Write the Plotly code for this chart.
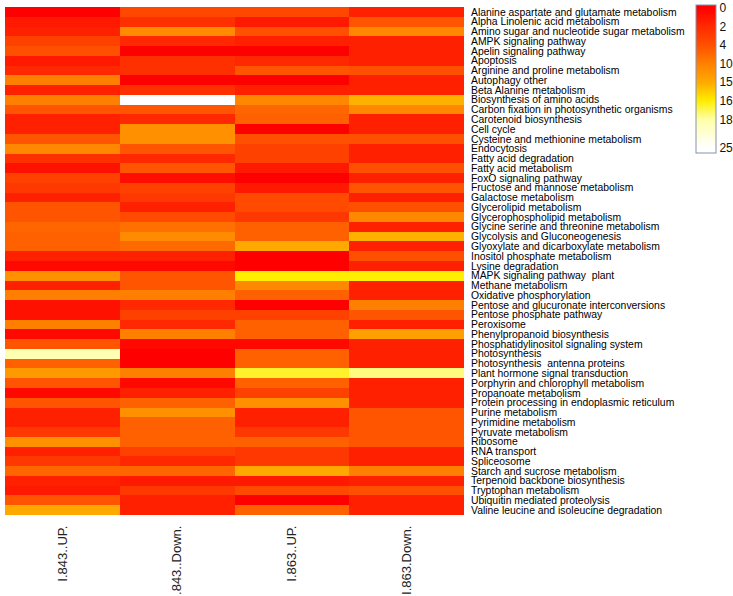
import numpy as np
import plotly.graph_objects as go

pathways = [
    "Alanine aspartate and glutamate metabolism",
    "Alpha Linolenic acid metabolism",
    "Amino sugar and nucleotide sugar metabolism",
    "AMPK signaling pathway",
    "Apelin signaling pathway",
    "Apoptosis",
    "Arginine and proline metabolism",
    "Autophagy other",
    "Beta Alanine metabolism",
    "Biosynthesis of amino acids",
    "Carbon fixation in photosynthetic organisms",
    "Carotenoid biosynthesis",
    "Cell cycle",
    "Cysteine and methionine metabolism",
    "Endocytosis",
    "Fatty acid degradation",
    "Fatty acid metabolism",
    "FoxO signaling pathway",
    "Fructose and mannose metabolism",
    "Galactose metabolism",
    "Glycerolipid metabolism",
    "Glycerophospholipid metabolism",
    "Glycine serine and threonine metabolism",
    "Glycolysis and Gluconeogenesis",
    "Glyoxylate and dicarboxylate metabolism",
    "Inositol phosphate metabolism",
    "Lysine degradation",
    "MAPK signaling pathway  plant",
    "Methane metabolism",
    "Oxidative phosphorylation",
    "Pentose and glucuronate interconversions",
    "Pentose phosphate pathway",
    "Peroxisome",
    "Phenylpropanoid biosynthesis",
    "Phosphatidylinositol signaling system",
    "Photosynthesis",
    "Photosynthesis  antenna proteins",
    "Plant hormone signal transduction",
    "Porphyrin and chlorophyll metabolism",
    "Propanoate metabolism",
    "Protein processing in endoplasmic reticulum",
    "Purine metabolism",
    "Pyrimidine metabolism",
    "Pyruvate metabolism",
    "Ribosome",
    "RNA transport",
    "Spliceosome",
    "Starch and sucrose metabolism",
    "Terpenoid backbone biosynthesis",
    "Tryptophan metabolism",
    "Ubiquitin mediated proteolysis",
    "Valine leucine and isoleucine degradation",
]

samples = ["I.843..UP.", ".843..Down.", "I.863..UP.", "I.863.Down."]

i843_up = [0, 1.2, 1.5, 3.2, 4, 1.2, 1.9, 10, 1.5, 10, 4.6, 1.5, 1.5, 4.6, 11, 2.3, 0.8, 3.2, 2.7, 1.5,
           4.6, 4.6, 6.8, 6, 6, 1.5, 0.4, 12, 1.5, 10, 0.8, 0.8, 10, 0.4, 4.6, 19, 6, 13, 4.6, 0.4,
           4.6, 1.5, 1.5, 2.7, 12, 1.5, 2.7, 6.8, 1.5, 1.2, 4.6, 14.8]
i843_down = [3.5, 2.3, 11.4, 1.9, 0, 2.3, 2.3, 0, 2.3, 25, 4.6, 1.9, 12, 12, 4.6, 1.9, 4.6, 0.6, 3.2, 2.7,
             1.5, 3.7, 8, 11.4, 7.2, 1.5, 0.4, 4.6, 4.6, 10, 1.9, 3.2, 1.9, 10, 0.4, 0, 0, 10, 0.4, 1.5,
             6, 12, 6, 6, 6, 3.2, 1.9, 6.8, 1.2, 2.7, 1.5, 1.5]
i863_up = [3.5, 1.2, 4, 1.5, 0, 1.9, 4.6, 0, 1.5, 11, 6.8, 6, 0, 4, 3.2, 3.2, 1.2, 0, 1.2, 3.7,
           3.7, 2.7, 6, 6, 14.8, 0, 0, 16, 11, 6, 0, 3.2, 6, 6, 0.4, 6, 6, 16.5, 6, 3.2,
           12, 1.5, 1.5, 2.7, 6, 2.7, 2.7, 14.8, 1.2, 3.7, 0, 6]
i863_down = [1.5, 4.6, 11, 1.5, 1.5, 1.5, 4, 1.5, 1.5, 15.1, 11, 1.5, 1.5, 4, 1.5, 1.5, 4, 1.5, 4.6, 1.5,
             4, 11, 1.5, 15.1, 1.5, 4, 1.5, 16, 1.5, 1.5, 10, 4.6, 1.5, 13.8, 1.5, 1.5, 1.5, 17.5, 1.5, 1.5,
             1.5, 4.6, 4.6, 4.6, 4.6, 1.5, 1.5, 10, 1.5, 4, 1.5, 1.5]

legend_breaks = [0, 2, 4, 10, 15, 16, 18, 25]
break_pos = [0, 1, 2, 3, 4, 5, 6, 7.5]
break_colors = ["#ff0000", "#ff2a00", "#ff5000", "#ff8000", "#ffaa00", "#ffee00", "#ffffa8", "#ffffff"]

vals = np.array([i843_up, i843_down, i863_up, i863_down]).T
pos = -np.interp(vals, legend_breaks, break_pos)

zmin, zmax = -7.8, 0.15
colorscale = []
for p, c in sorted(zip(break_pos, break_colors), key=lambda t: -t[0]):
    colorscale.append([(-p - zmin) / (zmax - zmin), c])
colorscale = [[0.0, "#ffffff"]] + colorscale + [[1.0, "#ff0000"]]

W, H = 733, 596
fig = go.Figure(go.Heatmap(
    z=pos, x=samples, y=pathways,
    zmin=zmin, zmax=zmax, colorscale=colorscale,
    customdata=vals, hovertemplate="%{y}<br>%{x}: %{customdata}<extra></extra>",
    colorbar=dict(
        tickvals=[-p for p in break_pos], ticktext=[str(b) for b in legend_breaks],
        ticks="", thickness=20, len=148 / H, lenmode="fraction",
        x=696 / W, xanchor="left", y=1 - 5 / H, yanchor="top",
        outlinewidth=1, outlinecolor="#8393ab", ticklabelposition="outside",
        tickfont=dict(family="Liberation Sans, Arial", size=12, color="#111"),
        xpad=0, ypad=0,
    ),
))

fig.update_layout(
    width=W, height=H,
    margin=dict(l=0, r=0, t=0, b=0, autoexpand=False),
    paper_bgcolor="white", plot_bgcolor="white",
    font=dict(family="Liberation Sans, Arial", color="#111"),
    xaxis=dict(domain=[5 / W, 464 / W], tickangle=-90, showgrid=False, zeroline=False,
               ticks="", ticklabelstandoff=7, automargin=False,
               tickfont=dict(size=13, color="#222")),
    yaxis=dict(domain=[1 - 515 / H, 1 - 7 / H], autorange="reversed", side="right",
               showgrid=False, zeroline=False, ticks="", ticklabelstandoff=6, automargin=False,
               tickmode="array", tickvals=pathways,
               tickfont=dict(size=10.4, color="#000")),
)

fig.write_html("out.html", config={"displayModeBar": False},
               post_script="document.body.style.margin='0';document.body.style.overflow='hidden';")
